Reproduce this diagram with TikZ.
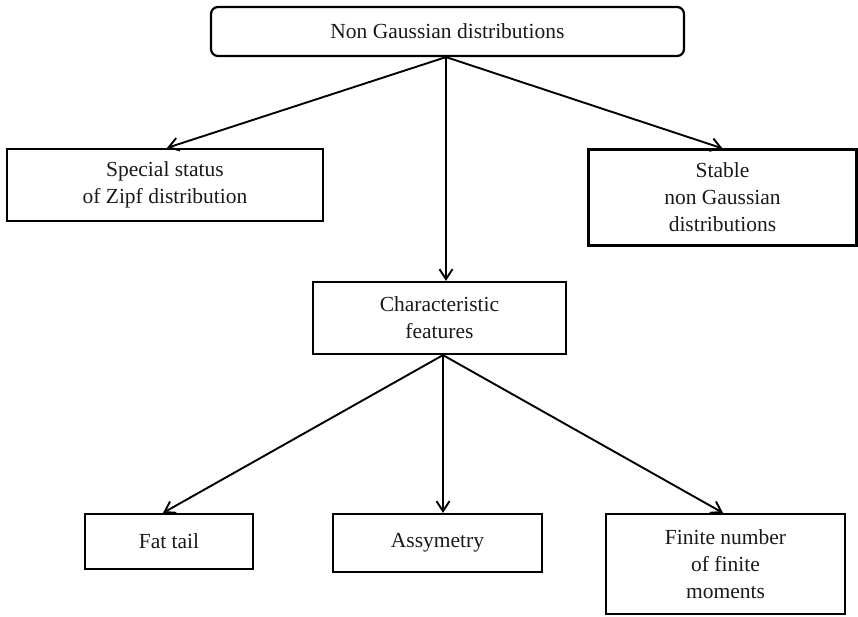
\documentclass[tikz,border=0pt]{standalone}
\usepackage{fontspec}
\setmainfont{Liberation Serif}
\usetikzlibrary{arrows.meta}

\tikzset{
  box/.style={draw, line width=2.2pt, align=center, inner sep=0pt,
    font=\fontsize{21.5}{27}\selectfont, text=black!90},
  link/.style={->, line width=1.9pt}
}

\begin{document}
\begin{tikzpicture}[x=1pt, y=-1pt, >={Straight Barb[length=10pt,width=13pt]}]
  \useasboundingbox (0,0) rectangle (858,616);

  % root
  \node[box, rounded corners=7pt, minimum width=473pt, minimum height=49pt]
    (root) at (447.5,31.5) {Non Gaussian distributions};

  % second level
  \node[box, minimum width=316pt, minimum height=72pt]
    (zipf) at (165,185) {Special status\\of Zipf distribution};
  \node[box, minimum width=268pt, minimum height=96pt]
    (stable) at (722.5,197.5) {Stable\\non Gaussian\\distributions};
  \node[box, minimum width=253pt, minimum height=72pt]
    (feat) at (439.5,318) {Characteristic\\features};

  % features
  \node[box, minimum width=168pt, minimum height=55pt]
    (fat) at (169,541.5) {Fat tail};
  \node[box, minimum width=209pt, minimum height=58pt]
    (asym) at (437.5,543) {Assymetry};
  \node[box, minimum width=239pt, minimum height=100pt]
    (finite) at (725.5,564) {Finite number\\of finite\\moments};

  % connectors
  \coordinate (hub) at ([xshift=-1.5pt]root.south);
  \draw[link] (hub) -- ([xshift=2pt]zipf.north);
  \draw[link] (hub) -- (hub |- feat.north);
  \draw[link] (hub) -- (stable.north);

  \coordinate (foot) at ([xshift=3.5pt]feat.south);
  \draw[link] (foot) -- ([xshift=-6pt]fat.north);
  \draw[link] (foot) -- (foot |- asym.north);
  \draw[link] (foot) -- ([xshift=-2.5pt]finite.north);
\end{tikzpicture}
\end{document}
